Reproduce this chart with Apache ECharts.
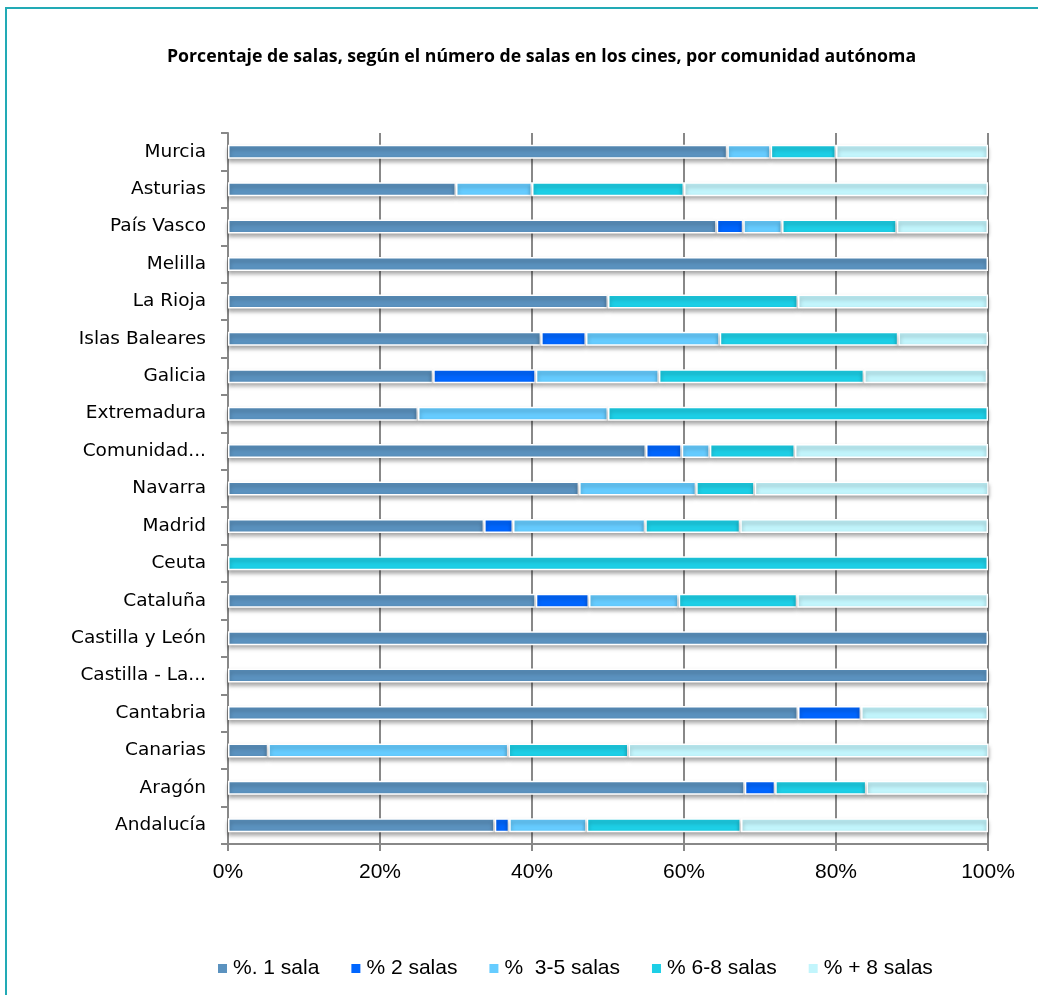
<!DOCTYPE html>
<html>
<head>
<meta charset="utf-8">
<script src="https://cdn.jsdelivr.net/npm/echarts@6/dist/echarts.min.js"></script>
<style>
  html, body { margin: 0; padding: 0; background: #fff; overflow: hidden; }
  #frame { position: absolute; left: 5px; top: 7px; width: 1040px; height: 1000px; border: 2px solid #22aab5; box-sizing: border-box; }
  #chart { position: absolute; left: 0; top: 0; width: 1038px; height: 995px; }
</style>
</head>
<body>
<div id="frame"></div>
<div id="chart"></div>
<script>
// regiones de arriba a abajo
const regiones = ['Murcia', 'Asturias', 'País Vasco', 'Melilla', 'La Rioja', 'Islas Baleares',
  'Galicia', 'Extremadura', 'Comunidad...', 'Navarra', 'Madrid', 'Ceuta', 'Cataluña',
  'Castilla y León', 'Castilla - La...', 'Cantabria', 'Canarias', 'Aragón', 'Andalucía']

const series1 = [65.7, 30, 64.3, 100, 50, 41.2, 27.0, 25, 55.0, 46.2, 33.7, 0, 40.5, 100, 100, 75, 5.3, 68, 35.1]
const series2 = [0, 0, 3.5, 0, 0, 5.9, 13.5, 0, 4.7, 0, 3.8, 0, 7.0, 0, 0, 8.3, 0, 4, 1.9]
const series35 = [5.7, 10, 5.1, 0, 0, 17.6, 16.2, 25, 3.7, 15.4, 17.4, 0, 11.8, 0, 0, 0, 31.6, 0, 10.2]
const series68 = [8.6, 20, 15.1, 0, 25, 23.5, 27.0, 50, 11.2, 7.7, 12.5, 100, 15.6, 0, 0, 0, 15.8, 12, 20.3]
const seriesMas8 = [20.0, 40, 12.0, 0, 25, 11.8, 16.2, 0, 25.4, 30.8, 32.6, 0, 25.1, 0, 0, 16.7, 47.4, 16, 32.5]

const nombres = ['%. 1 sala', '% 2 salas', '%  3-5 salas', '% 6-8 salas', '% + 8 salas']
const colores = ['#5b92bf', '#0066ff', '#66ccff', '#1dcfe6', '#c2f5fc']
const valores = [series1, series2, series35, series68, seriesMas8]

let chart = echarts.init(document.getElementById('chart'))

let series = valores.map(function(v, i) {
  return {
    name: nombres[i],
    type: 'bar',
    stack: 'total',
    barWidth: 14,
    data: v.map(function(x) { return x === 0 ? '-' : x }),
    itemStyle: {
      color: colores[i],
      borderColor: '#fff',
      borderWidth: 1.5,
      shadowColor: 'rgba(0,0,0,0.35)',
      shadowBlur: 4,
      shadowOffsetY: 3
    }
  }
})

chart.setOption({
  animation: false,
  title: {
    text: 'Porcentaje de salas, según el número de salas en los cines, por comunidad autónoma',
    left: 162,
    top: 43,
    textStyle: { fontFamily: '"Open Sans", sans-serif', fontWeight: 'bold', fontSize: 17.7, color: '#000' }
  },
  legend: {
    left: 211,
    top: 953,
    itemWidth: 11,
    itemHeight: 11,
    itemGap: 30,
    icon: 'rect',
    textStyle: { fontFamily: '"Liberation Sans", sans-serif', fontSize: 21, color: '#000' },
    data: nombres
  },
  grid: { left: 228, right: 50, top: 133, bottom: 151, containLabel: false },
  xAxis: {
    type: 'value',
    min: 0,
    max: 100,
    interval: 20,
    axisLine: { show: true, lineStyle: { color: '#888', width: 2 } },
    axisTick: { show: true, length: 7, lineStyle: { color: '#888', width: 2 } },
    splitLine: { show: true, lineStyle: { color: '#888', width: 2 } },
    axisLabel: { formatter: '{value}%', fontFamily: '"Liberation Sans", sans-serif', fontSize: 21, color: '#000', margin: 18 }
  },
  yAxis: {
    type: 'category',
    inverse: true,
    data: regiones,
    axisLine: { show: true, lineStyle: { color: '#888', width: 2 } },
    axisTick: { show: true, length: 7, lineStyle: { color: '#888', width: 2 } },
    axisLabel: { fontFamily: '"DejaVu Sans", sans-serif', fontSize: 18.5, color: '#000', margin: 22 }
  },
  series: series
})
</script>
</body>
</html>
